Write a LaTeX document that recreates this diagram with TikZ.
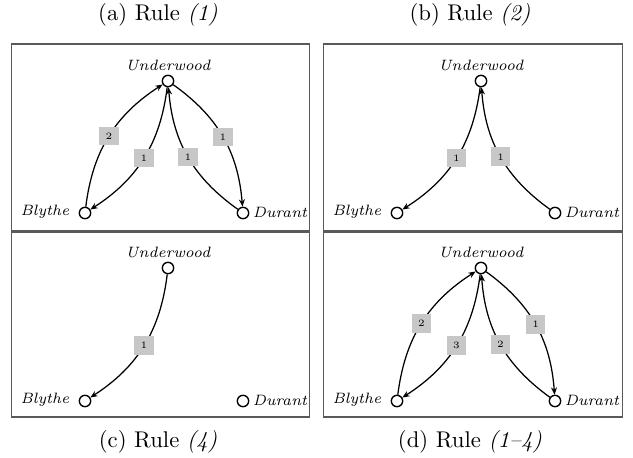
\documentclass[tikz,border=0pt]{standalone}
\usetikzlibrary{arrows.meta}
\begin{document}
\begin{tikzpicture}[x=0.44pt,y=0.44pt,
  vert/.style={circle,draw,line width=0.6pt,minimum size=5pt,inner sep=0pt},
  panel/.style={draw=black!65,line width=0.7pt},
  wlab/.style={fill=black!22,font=\fontsize{4.3}{5}\selectfont,minimum width=8.6pt,minimum height=8.2pt,inner sep=0pt},
  edge/.style={-{Stealth[length=3.2pt,width=2.6pt]},line width=0.55pt,bend left=25},
  vname/.style={font=\fontsize{6.6}{8}\selectfont\itshape,inner sep=0pt},
  capt/.style={font=\fontsize{10}{12}\selectfont}]
\useasboundingbox (0,0) rectangle (633,-457);
% captions
\node[capt] (capa) at (158,-15) {(a) Rule \textit{(1)}};
\node[capt] (capb) at (470,-15) {(b) Rule \textit{(2)}};
\node[capt] (capc) at (158,-442) {(c) Rule \textit{(4)}};
\node[capt] (capd) at (470,-442) {(d) Rule \textit{(1--4)}};
% panel (a)
\draw[panel] (11.5,-44) rectangle (309.5,-230.5);
\node[vert] (aU) at (168,-81) {};
\node[vert] (aB) at (85,-213) {};
\node[vert] (aD) at (243,-213) {};
\node[vname] (aUl) at (168,-65) {Underwood};
\node[vname] (aBl) at (45,-212) {Blythe};
\node[vname] (aDl) at (280,-212) {Durant};
\draw[edge] (aB) to node[wlab] {2} (aU);
\draw[edge] (aU) to node[wlab] {1} (aB);
\draw[edge] (aD) to node[wlab] {1} (aU);
\draw[edge] (aU) to node[wlab] {1} (aD);
% panel (b)
\draw[panel] (323.5,-44) rectangle (622.5,-230.5);
\node[vert] (bU) at (481,-81) {};
\node[vert] (bB) at (397,-213) {};
\node[vert] (bD) at (555,-213) {};
\node[vname] (bUl) at (481,-65) {Underwood};
\node[vname] (bBl) at (357,-212) {Blythe};
\node[vname] (bDl) at (592,-212) {Durant};
\draw[edge] (bU) to node[wlab] {1} (bB);
\draw[edge] (bD) to node[wlab] {1} (bU);
% panel (c)
\draw[panel] (11.5,-232) rectangle (309.5,-417);
\node[vert] (cU) at (168,-268) {};
\node[vert] (cB) at (85,-401) {};
\node[vert] (cD) at (243,-401) {};
\node[vname] (cUl) at (168,-252) {Underwood};
\node[vname] (cBl) at (45,-400) {Blythe};
\node[vname] (cDl) at (280,-400) {Durant};
\draw[edge] (cU) to node[wlab] {1} (cB);
% panel (d)
\draw[panel] (323.5,-232) rectangle (622.5,-417);
\node[vert] (dU) at (481,-268) {};
\node[vert] (dB) at (397,-401) {};
\node[vert] (dD) at (555,-401) {};
\node[vname] (dUl) at (481,-252) {Underwood};
\node[vname] (dBl) at (357,-400) {Blythe};
\node[vname] (dDl) at (592,-400) {Durant};
\draw[edge] (dB) to node[wlab] {2} (dU);
\draw[edge] (dU) to node[wlab] {3} (dB);
\draw[edge] (dD) to node[wlab] {2} (dU);
\draw[edge] (dU) to node[wlab] {1} (dD);
\end{tikzpicture}
\end{document}
